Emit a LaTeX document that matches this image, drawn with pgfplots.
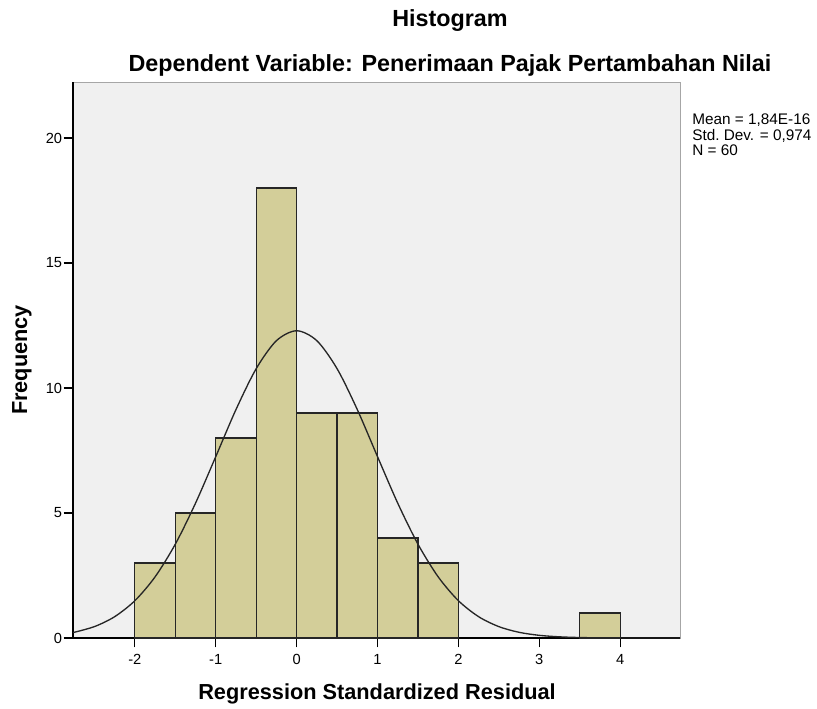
\documentclass[border=0pt]{standalone}
\usepackage{pgfplots}
\pgfplotsset{compat=1.18}
\usepackage{fontspec}
\setmainfont{Liberation Sans}
\definecolor{barfill}{RGB}{211,206,153}
\definecolor{bgfill}{RGB}{240,240,240}
\begin{document}
\begin{tikzpicture}[x=0.75pt,y=0.75pt]
\path[use as bounding box] (-73,-70) rectangle (744,638);
\begin{axis}[
  at={(0pt,0pt)}, anchor=south west,
  scale only axis, width=455.25pt, height=417pt,
  xmin=-2.765, xmax=4.74, ymin=0, ymax=22.24,
  axis x line*=bottom, axis y line*=left,
  axis line style={black, line width=1pt},
  axis background/.style={fill=bgfill, draw=gray!70},
  xtick={-2,-1,0,1,2,3,4}, ytick={0,5,10,15,20},
  tick align=outside, major tick length=7pt,
  tick style={black, line width=0.9pt},
  every tick label/.append style={font=\fontsize{11}{13}\selectfont},
  xticklabel style={inner sep=1pt, yshift=-4pt},
  yticklabel style={inner sep=1pt},
  /pgf/number format/assume math mode=true,
  clip=true,
]
\addplot[ybar interval, fill=barfill, draw=black!85, line width=0.9pt] coordinates {
  (-2,3) (-1.5,5) (-1,8) (-0.5,18) (0,9) (0.5,9) (1,4) (1.5,3) (2,0)
};
\addplot[ybar interval, fill=barfill, draw=black!85, line width=0.9pt] coordinates {
  (3.5,1) (4,1)
};
\addplot[black!85, line width=1pt, smooth] coordinates {
  (-2.765,0.217) (-2.5,0.456) (-2.25,0.853) (-2,1.493) (-1.75,2.447) (-1.5,3.754)
  (-1.25,5.394) (-1,7.255) (-0.75,9.137) (-0.5,10.773) (-0.25,11.892) (0,12.29)
  (0.25,11.892) (0.5,10.773) (0.75,9.137) (1,7.255) (1.25,5.394) (1.5,3.754)
  (1.75,2.447) (2,1.493) (2.25,0.853) (2.5,0.456) (2.75,0.228) (3,0.107)
  (3.25,0.047) (3.5,0.019) (3.75,0.007) (4,0.003) (4.74,0.0)
};
\end{axis}
\node[font=\fontsize{17.5}{20}\selectfont\bfseries] at (377,617) {Histogram};
\node[font=\fontsize{17.5}{20}\selectfont\bfseries] at (377,573) {Dependent Variable: Penerimaan Pajak Pertambahan Nilai};
\node[font=\fontsize{16.3}{19}\selectfont\bfseries] at (304,-56) {Regression Standardized Residual};
\node[font=\fontsize{16.3}{19}\selectfont\bfseries, rotate=90] at (-51,278) {Frequency};
\node[anchor=north west, align=left, font=\fontsize{11.5}{11.5}\selectfont, inner sep=0pt] at (619,524) {Mean = 1,84E-16\\Std.\ Dev. = 0,974\\N = 60};
\end{tikzpicture}
\end{document}
